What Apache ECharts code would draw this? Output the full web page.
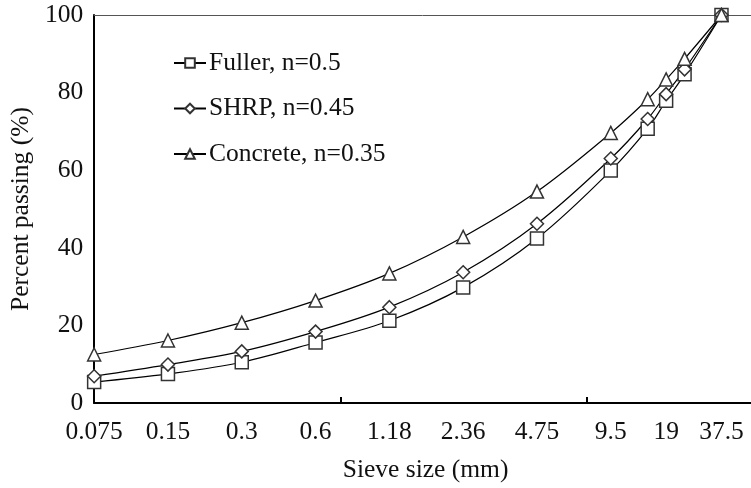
<!DOCTYPE html>
<html>
<head>
<meta charset="utf-8">
<script src="https://cdn.jsdelivr.net/npm/echarts@6/dist/echarts.min.js"></script>
<style>
html,body{margin:0;padding:0;background:#fff;}
#c{width:751px;height:488px;}
</style>
</head>
<body>
<div id="c"></div>
<script>
// Tick labels on the sieve axis and where they sit (chart's own x scale)
const sieveLabels = ['0.075','0.15','0.3','0.6','1.18','2.36','4.75','9.5','19','37.5'];
const labelPos = [0,1,2,3,4,5,6,7,7.75,8.5];
// Data point positions along the sieve axis
const xPos = [0,1,2,3,4,5,6,7,7.5,7.75,8,8.5];
// Percent passing
const fuller   = [5.4,7.5,10.5,15.6,21.2,29.8,42.4,59.9,70.7,77.9,84.7,100];
const shrp     = [6.9,9.9,13.3,18.4,24.7,33.7,46.2,63.0,73.2,79.6,86.0,100];
const concrete = [12.5,16.1,20.7,26.4,33.4,42.8,54.5,69.6,78.3,83.4,88.7,100];
const seriesNames = ['Fuller, n=0.5','SHRP, n=0.45','Concrete, n=0.35'];
const yTicks = [0,20,40,60,80,100];
const xTickMarks = [3.34,6.67];

const FONT = '"Liberation Serif","Times New Roman",serif';
const FS = 25.5;
const pair = arr => xPos.map((x,i)=>[x,arr[i]]);

function mk(name, data, symbol, size){
  return {
    name, type:'line', data: pair(data), smooth:0.35, clip:false,
    symbol, symbolSize:size, showAllSymbol:true,
    lineStyle:{color:'#000',width:1.2},
    itemStyle:{color:'#fff',borderColor:'#333',borderWidth:1.5},
    emphasis:{disabled:true}
  };
}

const chart = echarts.init(document.getElementById('c'));
chart.setOption({
  animation:false,
  backgroundColor:'#fff',
  textStyle:{fontFamily:FONT},
  grid:{left:83,right:0,top:15,bottom:81,containLabel:false},
  legend:{
    orient:'vertical', left:173, top:50, padding:0,
    itemWidth:32, itemHeight:12, itemGap:19.5,
    data:seriesNames,
    textStyle:{fontFamily:FONT,fontSize:FS,color:'#111',padding:[0,0,0,-2]},
    selectedMode:false
  },
  xAxis:[{
    type:'value', min:0, max:8.9, position:'bottom',
    axisLine:{show:true,onZero:false,lineStyle:{color:'#000',width:2}},
    axisTick:{show:true,inside:true,length:6,customValues:xTickMarks,lineStyle:{color:'#000',width:2}},
    splitLine:{show:false},
    axisLabel:{
      customValues:labelPos, margin:16,
      fontFamily:FONT,fontSize:FS,color:'#111',
      formatter:v=>{const i=labelPos.findIndex(p=>Math.abs(p-v)<1e-6);return i>=0?sieveLabels[i]:'';}
    },
    name:'Sieve size (mm)', nameLocation:'middle', nameGap:54,
    nameTextStyle:{fontFamily:FONT,fontSize:FS,color:'#111',padding:[0,0,0,6]}
  },{
    type:'value', min:0, max:8.9, position:'top',
    axisLine:{show:true,onZero:false,lineStyle:{color:'#555',width:1}},
    axisTick:{show:false}, axisLabel:{show:false}, splitLine:{show:false}
  }],
  yAxis:{
    type:'value', min:0, max:100, interval:20,
    axisLine:{show:true,lineStyle:{color:'#000',width:2}},
    axisTick:{show:false},
    splitLine:{show:false},
    axisLabel:{margin:11,fontFamily:FONT,fontSize:FS,color:'#111',customValues:yTicks},
    name:'Percent passing (%)', nameLocation:'middle', nameGap:54, nameRotate:90,
    nameTextStyle:{fontFamily:FONT,fontSize:FS,color:'#111'}
  },
  series:[
    mk(seriesNames[0], fuller, 'rect', 13),
    mk(seriesNames[1], shrp, 'diamond', 13),
    mk(seriesNames[2], concrete, 'triangle', 13)
  ]
});
</script>
</body>
</html>
